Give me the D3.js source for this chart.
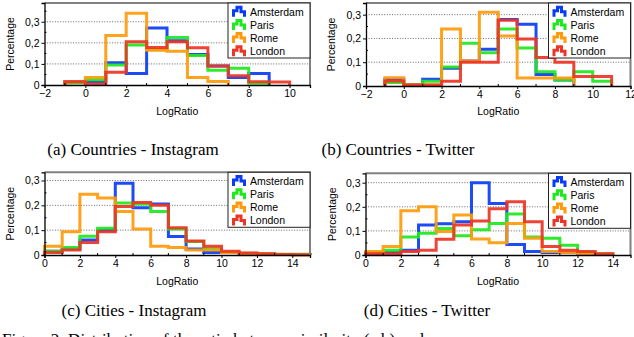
<!DOCTYPE html>
<html>
<head>
<meta charset="utf-8">
<script src="https://cdn.jsdelivr.net/npm/d3@7"></script>
<style>
  body { margin: 0; background: #fff; }
  svg { display: block; }
  .tick text { font-family: "Liberation Sans", Arial, sans-serif; font-size: 10.5px; fill: #000; }
  .lbl { font-family: "Liberation Sans", Arial, sans-serif; font-size: 10.5px; fill: #000; }
  .cap { font-family: "Liberation Serif", "Times New Roman", serif; font-size: 17px; fill: #000; }
</style>
</head>
<body>
<svg width="634" height="337"></svg>
<script>
'use strict';

const cities = ['Amsterdam', 'Paris', 'Rome', 'London'];
const colors = ['#0a3cf5', '#1ee81e', '#ff9a0a', '#ee3424'];

// (a) Countries - Instagram, bins start at -1, width 1
const binsA = [-1, 0, 1, 2, 3, 4, 5, 6, 7, 8, 9];
const aAmsterdam = [0.015, 0.015, 0.105, 0.055, 0.27, 0.21, 0.145, 0.09, 0.035, 0.055];
const aParis     = [0.01, 0.025, 0.095, 0.19, 0.17, 0.225, 0.14, 0.07, 0.08, 0.008];
const aRome      = [0.015, 0.035, 0.235, 0.34, 0.165, 0.16, 0.035, 0.017];
const aLondon    = [0.015, 0.005, 0.06, 0.205, 0.178, 0.205, 0.177, 0.09, 0.044, 0.015, 0.014];

// (b) Countries - Twitter
const binsB = [-1, 0, 1, 2, 3, 4, 5, 6, 7, 8, 9, 10];
const bAmsterdam = [0.028, 0.005, 0.028, 0.075, 0.105, 0.155, 0.28, 0.26, 0.048, 0.025];
const bParis     = [0.015, 0.005, 0.02, 0.08, 0.18, 0.14, 0.24, 0.16, 0.06, 0.025, 0.06, 0.02];
const bRome      = [0.035, 0.004, 0.004, 0.24, 0.105, 0.31, 0.21, 0.034, 0.034, 0.034];
const bLondon    = [0.021, 0.004, 0.004, 0.02, 0.1, 0.1, 0.276, 0.198, 0.12, 0.1, 0.04, 0.04];

// (c) Cities - Instagram
const binsC = [0, 1, 2, 3, 4, 5, 6, 7, 8, 9, 10, 11, 12, 13, 14];
const cAmsterdam = [0.015, 0.024, 0.06, 0.1, 0.289, 0.19, 0.205, 0.074, 0.024, 0.01, 0.01, 0.005, 0.002, 0.002, 0.002];
const cParis     = [0.015, 0.03, 0.075, 0.108, 0.209, 0.205, 0.175, 0.105, 0.054, 0.025, 0.01, 0.007, 0.005, 0.003, 0.003];
const cRome      = [0.035, 0.094, 0.245, 0.23, 0.175, 0.105, 0.035, 0.03, 0.02, 0.02, 0.01, 0.005, 0.003, 0.002, 0.001];
const cLondon    = [0.01, 0.02, 0.05, 0.094, 0.195, 0.211, 0.2, 0.11, 0.056, 0.035, 0.015, 0.008, 0.005, 0.002, 0.001];

// (d) Cities - Twitter
const binsD = [0, 1, 2, 3, 4, 5, 6, 7, 8, 9, 10, 11, 12, 13];
const dAmsterdam = [0.005, 0.01, 0.02, 0.124, 0.13, 0.138, 0.3, 0.214, 0.044, 0.015, 0.01, 0.01, 0.005];
const dParis     = [0.01, 0.02, 0.075, 0.09, 0.11, 0.08, 0.105, 0.131, 0.17, 0.075, 0.069, 0.04, 0.01, 0.005];
const dRome      = [0.015, 0.035, 0.184, 0.2, 0.098, 0.166, 0.066, 0.051, 0.131, 0.07, 0.015, 0.01, 0.005, 0.002];
const dLondon    = [0.005, 0.005, 0.015, 0.02, 0.065, 0.124, 0.141, 0.192, 0.221, 0.138, 0.035, 0.02, 0.015, 0.005];

const yTicks = [0, 0.1, 0.2, 0.3];

const panels = [
  { bins: binsA, series: [aAmsterdam, aParis, aRome, aLondon], left: 44.5, right: 310, top: 3, bottom: 85,
    xDomain: [-2, 11], yMax: 0.389, xTicks: [-2, 0, 2, 4, 6, 8, 10],
    caption: '(a) Countries - Instagram', capX: 133, capY: 154.5, ylabX: 10, xlabY: 114.5 },
  { bins: binsB, series: [bAmsterdam, bParis, bRome, bLondon], left: 366, right: 630.5, top: 3, bottom: 86,
    xDomain: [-2, 12], yMax: 0.349, xTicks: [-2, 0, 2, 4, 6, 8, 10, 12],
    caption: '(b) Countries - Twitter', capX: 398, capY: 154.5, ylabX: 331, xlabY: 114.5 },
  { bins: binsC, series: [cAmsterdam, cParis, cRome, cLondon], left: 44.5, right: 310, top: 172.3, bottom: 255,
    xDomain: [0, 15], yMax: 0.333, xTicks: [0, 2, 4, 6, 8, 10, 12, 14],
    caption: '(c) Cities - Instagram', capX: 134, capY: 315.5, ylabX: 10, xlabY: 285 },
  { bins: binsD, series: [dAmsterdam, dParis, dRome, dLondon], left: 365.5, right: 630.5, top: 173.3, bottom: 255,
    xDomain: [0, 15], yMax: 0.339, xTicks: [0, 2, 4, 6, 8, 10, 12, 14],
    caption: '(d) Cities - Twitter', capX: 427, capY: 315.5, ylabX: 332, xlabY: 285 }
];

const svg = d3.select('svg');
const fmtY = d => d === 0 ? '0' : d3.format('.1f')(d).replace('.', ',');

panels.forEach(p => {
  const x = d3.scaleLinear().domain(p.xDomain).range([p.left, p.right]);
  const y = d3.scaleLinear().domain([0, p.yMax]).range([p.bottom, p.top]);
  const g = svg.append('g');

  // Dotted grid
  g.selectAll('line.grid')
    .data(yTicks.slice(1))
    .enter().append('line')
    .attr('x1', p.left).attr('x2', p.right)
    .attr('y1', d => y(d)).attr('y2', d => y(d))
    .attr('stroke', '#444').attr('stroke-width', 0.8)
    .attr('stroke-dasharray', '1,1.6');

  // Step histograms
  const line = d3.line().x(d => d[0]).y(d => d[1]);
  p.series.forEach((vals, i) => {
    const pts = [[x(p.bins[0]), y(0)]];
    vals.forEach((v, j) => {
      pts.push([x(p.bins[0] + j), y(v)]);
      pts.push([x(p.bins[0] + j + 1), y(v)]);
    });
    pts.push([x(p.bins[0] + vals.length), y(0)]);
    g.append('path')
      .attr('d', line(pts))
      .attr('fill', 'none')
      .attr('stroke', colors[i])
      .attr('stroke-width', 3)
      .attr('stroke-opacity', 0.92)
      .attr('stroke-linejoin', 'miter');
  });

  // Frame (top / right)
  g.append('path')
    .attr('d', `M${p.left},${p.top}H${p.right}V${p.bottom}`)
    .attr('fill', 'none').attr('stroke', '#808080').attr('stroke-width', 2);

  // Axes
  const yAxis = d3.axisLeft(y).tickValues(yTicks).tickFormat(fmtY).tickSize(3).tickPadding(2);
  const ya = g.append('g').attr('transform', `translate(${p.left},0)`).call(yAxis);
  const minorY = d3.range(0.05, p.yMax, 0.1);
  g.selectAll('line.my').data(minorY).enter().append('line')
    .attr('x1', p.left).attr('x2', p.left + 2)
    .attr('y1', d => y(d)).attr('y2', d => y(d))
    .attr('stroke', '#000').attr('stroke-width', 1);

  const xAxis = d3.axisBottom(x).tickValues(p.xTicks).tickSize(3).tickPadding(2);
  const xa = g.append('g').attr('transform', `translate(0,${p.bottom})`).call(xAxis);
  const minorX = d3.range(p.xDomain[0] + 1, p.xDomain[1], 2);
  g.selectAll('line.mx').data(minorX).enter().append('line')
    .attr('x1', d => x(d)).attr('x2', d => x(d))
    .attr('y1', p.bottom).attr('y2', p.bottom - 2)
    .attr('stroke', '#000').attr('stroke-width', 1);

  [ya, xa].forEach(a => {
    a.select('.domain').attr('stroke', '#000').attr('stroke-width', 1.3);
    a.selectAll('.tick line').attr('stroke', '#000');
  });

  // Axis titles
  g.append('text').attr('class', 'lbl')
    .attr('x', (p.left + p.right) / 2).attr('y', p.xlabY)
    .attr('text-anchor', 'middle').text('LogRatio');
  g.append('text').attr('class', 'lbl')
    .attr('transform', `translate(${p.ylabX + 3.5},${(p.top + p.bottom) / 2}) rotate(-90)`)
    .attr('text-anchor', 'middle').text('Percentage');

  // Legend
  const lw = 82, lh = 55;
  const lg = g.append('g').attr('transform', `translate(${p.right - lw},${p.top})`);
  lg.append('rect').attr('width', lw).attr('height', lh)
    .attr('fill', '#fff').attr('stroke', '#222').attr('stroke-width', 1);
  cities.forEach((c, i) => {
    const row = lg.append('g').attr('transform', `translate(4,${8.7 + i * 13.2})`);
    row.append('path')
      .attr('d', 'M1.5,5V-1H5V-4.5H9V0H12.5V5')
      .attr('fill', 'none').attr('stroke', colors[i]).attr('stroke-width', 3);
    row.append('text').attr('class', 'lbl')
      .attr('x', 18).attr('y', 3.8).text(c);
  });

  // Caption
  svg.append('text').attr('class', 'cap')
    .attr('x', p.capX).attr('y', p.capY)
    .attr('text-anchor', 'middle').text(p.caption);
});

svg.append('text').attr('class', 'cap')
  .attr('x', 2).attr('y', 345)
  .text('Figure 2: Distribution of the ratio between similarity (a,b) and');
</script>
</body>
</html>
